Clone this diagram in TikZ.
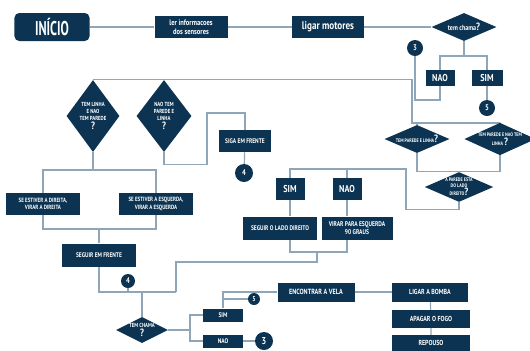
\documentclass[tikz,border=0pt]{standalone}
\usepackage{fontspec}
\setmainfont{PT Sans}[FakeStretch=0.82]
\newfontfamily\titlefont{PT Sans}[FakeStretch=0.62]
\usetikzlibrary{shapes.geometric,backgrounds}
\definecolor{navy}{HTML}{0C3452}
\definecolor{linecol}{HTML}{8FA6B8}
\tikzset{
  box/.style={fill=navy, text=white, align=center, inner sep=1pt,
    font=\bfseries\fontsize{5.7}{6.5}\selectfont},
  startbox/.style={box, rounded corners=4pt, font=\titlefont\bfseries\fontsize{17}{18}\selectfont},
  ask/.style={diamond, fill=navy, text=white, align=center, inner sep=0pt,
    font=\bfseries\fontsize{5}{6}\selectfont},
  num/.style={circle, fill=navy, text=white, inner sep=0pt,
    font=\bfseries\fontsize{7}{8}\selectfont},
  conn/.style={draw=linecol, line width=1pt}
}
\newcommand{\q}{{\fontsize{9}{9}\selectfont ?}}
\begin{document}
\begin{tikzpicture}[x=0.03cm, y=-0.03cm]
\useasboundingbox (0,0) rectangle (530,350);

\node[startbox, minimum width=2.25cm, minimum height=0.84cm] (inicio) at (52,27) {INÍCIO};
\node[box, minimum width=2.19cm, minimum height=0.66cm, font=\bfseries\fontsize{6.8}{7.8}\selectfont] (ler) at (191,27) {ler informacoes\\dos sensores};
\node[box, minimum width=2.16cm, minimum height=0.66cm, font=\bfseries\fontsize{9.5}{10}\selectfont] (ligar) at (328,27) {ligar motores};
\node[ask, minimum width=1.95cm, minimum height=0.84cm, aspect=2.3, font=\bfseries\fontsize{6.3}{7}\selectfont] (chama) at (464,27) {tem chama\q};

\node[box, minimum width=0.87cm, minimum height=0.48cm, font=\bfseries\fontsize{8.5}{9}\selectfont] (nao1) at (440,78) {NAO};
\node[box, minimum width=0.93cm, minimum height=0.48cm, font=\bfseries\fontsize{8.5}{9}\selectfont] (sim1) at (487,78) {SIM};
\node[num, minimum size=0.48cm] (tres1) at (415,48) {3};
\node[num, minimum size=0.48cm] (cinco1) at (487,108) {5};

\node[ask, minimum width=1.59cm, minimum height=2.16cm, aspect=0.74] (linha) at (93,116) {TEM LINHA\\E NAO\\TEM PAREDE\\\q};
\node[ask, minimum width=1.65cm, minimum height=2.16cm, aspect=0.76] (parede) at (164,116) {NAO TEM\\PAREDE E\\LINHA\\\q};
\node[box, minimum width=1.56cm, minimum height=0.66cm] (siga) at (245,141) {SIGA EM FRENTE};
\node[num, minimum size=0.54cm] (quatro2) at (244,173) {4};

\node[box, minimum width=2.19cm, minimum height=0.66cm, font=\bfseries\fontsize{5.2}{6.5}\selectfont] (direita) at (43,204) {SE ESTIVER A DIREITA,\\VIRAR A DIREITA};
\node[box, minimum width=2.22cm, minimum height=0.66cm, font=\bfseries\fontsize{5.2}{6.5}\selectfont] (esquerda) at (156,204) {SE ESTIVER A ESQUERDA,\\VIRAR A ESQUERDA};
\node[box, minimum width=2.19cm, minimum height=0.69cm] (frente) at (99,255) {SEGUIR EM FRENTE};
\node[num, minimum size=0.42cm] (quatro1) at (128,281) {4};

\node[ask, minimum width=1.95cm, minimum height=0.84cm, aspect=2.3, font=\bfseries\fontsize{4.3}{5}\selectfont] (pl) at (417,139) {TEM PAREDE E LINHA\q};
\node[ask, minimum width=1.86cm, minimum height=0.84cm, aspect=2.2, font=\bfseries\fontsize{4.3}{5}\selectfont] (pnl) at (500,139) {TEM PAREDE E NAO TEM\\LINHA \q};
\node[ask, minimum width=1.95cm, minimum height=0.84cm, aspect=2.3, font=\bfseries\fontsize{4.3}{4.6}\selectfont] (lado) at (459,187) {A PAREDE ESTA\\DO LADO\\DIREITO\q};

\node[box, minimum width=0.87cm, minimum height=0.66cm, font=\bfseries\fontsize{8.5}{9}\selectfont] (sim3) at (290,189) {SIM};
\node[box, minimum width=0.87cm, minimum height=0.66cm, font=\bfseries\fontsize{8.5}{9}\selectfont] (nao3) at (347,189) {NAO};
\node[box, minimum width=2.22cm, minimum height=0.69cm] (ladodir) at (280,228) {SEGUIR O LADO DIREITO};
\node[box, minimum width=2.13cm, minimum height=0.69cm, font=\bfseries\fontsize{5.8}{7}\selectfont] (virar) at (357,228) {VIRAR PARA ESQUERDA\\90 GRAUS};

\node[ask, minimum width=1.56cm, minimum height=0.78cm, aspect=2, font=\bfseries\fontsize{5}{4}\selectfont] (chama2) at (142,330) {TEM CHAMA\\\q};
\node[box, minimum width=1.2cm, minimum height=0.39cm] (sim2) at (223,315) {SIM};
\node[box, minimum width=1.2cm, minimum height=0.39cm] (nao2) at (223,341) {NAO};
\node[num, minimum size=0.54cm, font=\bfseries\fontsize{8.5}{9}\selectfont] (tres2) at (264,341) {3};
\node[num, minimum size=0.36cm, font=\bfseries\fontsize{6}{7}\selectfont] (cinco2) at (254,299) {5};

\node[box, minimum width=2.31cm, minimum height=0.57cm, font=\bfseries\fontsize{6.4}{7}\selectfont] (vela) at (316,292) {ENCONTRAR A VELA};
\node[box, minimum width=2.28cm, minimum height=0.57cm, font=\bfseries\fontsize{6.2}{7}\selectfont] (bomba) at (430,292) {LIGAR A BOMBA};
\node[box, minimum width=2.34cm, minimum height=0.54cm, font=\bfseries\fontsize{6.2}{7}\selectfont] (apagar) at (431,319) {APAGAR O FOGO};
\node[box, minimum width=2.34cm, minimum height=0.48cm, font=\bfseries\fontsize{6.2}{7}\selectfont] (repouso) at (431,343) {REPOUSO};

\coordinate (j1) at (464,56);
\coordinate (j2) at (415,100);
\coordinate (j3) at (412,123);
\coordinate (j5) at (406,169);
\coordinate (j6) at (317,252);
\coordinate (j7) at (176,292);
\coordinate (j8) at (93,170);
\coordinate (j9) at (99,229);
\coordinate (j10) at (207,113);
\coordinate (j11) at (190,330);

\begin{scope}[on background layer]
\draw[conn] (inicio) -- (ler) -- (ligar) -- (chama);
\draw[conn] (chama.south) -- (j1);
\draw[conn] (nao1.north) |- (j1) -| (sim1.north);
\draw[conn] (sim1) -- (cinco1);
\draw[conn] (tres1) -- (j2) -| (nao1.south);
\draw[conn] (linha.north) -- (parede.north) -| (j3) -| (pnl.north);
\draw[conn] (j3) -| (pl.north);
\draw[conn] (pl.south) |- (lado.north) -| (pnl.south);
\draw[conn] (lado.south) -- ++(0,7) -| (j5) -| (sim3.north);
\draw[conn] (nao3.north) -- (nao3.north |- j5);
\draw[conn] (sim3.south) -- (sim3.south |- ladodir.north);
\draw[conn] (nao3.south) -- (nao3.south |- virar.north);
\draw[conn] (sim3.south |- ladodir.south) |- (j6) -| (nao3.south |- virar.south);
\draw[conn] (j6) -- ++(0,10) -| (j7);
\draw[conn] (frente.south) |- (j7);
\draw[conn] (quatro1) -- (quatro1 |- j7);
\draw[conn] (chama2.north) -- (chama2.north |- j7);
\draw[conn] (linha.south) -- (j8);
\draw[conn] (direita.north) |- (j8) -| (esquerda.north);
\draw[conn] (direita.south) |- (j9) -| (esquerda.south);
\draw[conn] (j9) -- (frente.north);
\draw[conn] (parede.south) -- ++(0,12) -| (j10) -| (siga.north);
\draw[conn] (siga) -- (quatro2);
\draw[conn] (chama2.east) -- (j11);
\draw[conn] (sim2.west) -| (j11);
\draw[conn] (nao2.west) -| (j11);
\draw[conn] (nao2) -- (tres2);
\draw[conn] (sim2.north) |- (vela.west);
\draw[conn] (sim2.north |- cinco2) -- (cinco2);
\draw[conn] (vela) -- (bomba);
\draw[conn] (bomba) -- (apagar) -- (repouso);
\end{scope}
\end{tikzpicture}
\end{document}
